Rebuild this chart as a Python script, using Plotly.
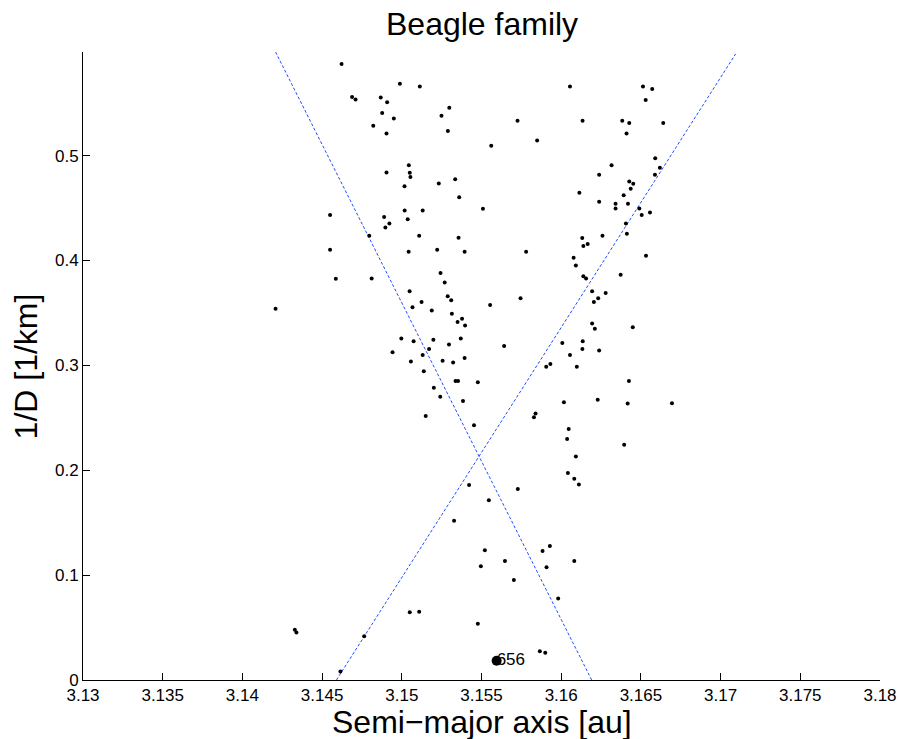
import plotly.graph_objects as go

# ---- data ----
a_au = [
    3.14622, 3.14988, 3.15113, 3.14688, 3.14710, 3.14868, 3.14908, 3.15298, 3.14877, 3.14950,
    3.15249, 3.14821, 3.15289, 3.14904, 3.15044, 3.15050, 3.15054, 3.14904, 3.15232, 3.15017,
    3.14550, 3.15018, 3.15131, 3.14889, 3.15037, 3.14922, 3.14897, 3.14796, 3.15109, 3.14550,
    3.15222, 3.15043, 3.14586, 3.14811, 3.15243, 3.15269, 3.15049, 3.15288, 3.15124, 3.15067,
    3.15188, 3.14208, 3.14997, 3.15074, 3.15198, 3.15296, 3.15171, 3.14942, 3.15131, 3.15057,
    3.15256, 3.16055, 3.16513, 3.16571, 3.16530, 3.15726, 3.16134, 3.16383, 3.16427, 3.16640,
    3.16410, 3.15561, 3.15849, 3.16590, 3.16316, 3.16619, 3.16238, 3.16588, 3.15335, 3.16427,
    3.16452, 3.16436, 3.16114, 3.16392, 3.15360, 3.16238, 3.16341, 3.16341, 3.16419, 3.16490,
    3.16557, 3.16505, 3.15509, 3.16406, 3.16412, 3.15356, 3.16132, 3.16259, 3.16139, 3.16166,
    3.15394, 3.15780, 3.16078, 3.16092, 3.16532, 3.16373, 3.16139, 3.16156, 3.16194, 3.16279,
    3.15310, 3.15554, 3.15745, 3.16232, 3.16205, 3.15314, 3.15350, 3.15378, 3.15397, 3.16194,
    3.16211, 3.16449, 3.15370, 3.15642, 3.16007, 3.16135, 3.16133, 3.16238, 3.16055, 3.15322,
    3.15394, 3.15906, 3.15932, 3.16098, 3.15337, 3.15353, 3.15477, 3.15384, 3.15453, 3.16425,
    3.16229, 3.16417, 3.16695, 3.16017, 3.15829, 3.15839, 3.16047, 3.16037, 3.16395, 3.16092,
    3.16042, 3.16082, 3.16111, 3.15422, 3.15728, 3.15546, 3.15328, 3.15521, 3.15929, 3.15883,
    3.15647, 3.16082, 3.15496, 3.15908, 3.15703, 3.15981, 3.15477, 3.15866, 3.15900, 3.15138,
    3.15201, 3.15241, 3.15150, 3.14329, 3.14339, 3.14764, 3.14615, 3.15050, 3.15109,
]
inv_d = [
    0.5874, 0.5686, 0.5660, 0.5559, 0.5534, 0.5555, 0.5508, 0.5457, 0.5407, 0.5355,
    0.5381, 0.5284, 0.5235, 0.5211, 0.4907, 0.4837, 0.4796, 0.4840, 0.4733, 0.4709,
    0.4434, 0.4477, 0.4477, 0.4415, 0.4394, 0.4353, 0.4315, 0.4235, 0.4235, 0.4103,
    0.4103, 0.4084, 0.3827, 0.3829, 0.3881, 0.3791, 0.3706, 0.3658, 0.3605, 0.3555,
    0.3523, 0.3541, 0.3257, 0.3229, 0.3245, 0.3199, 0.3156, 0.3126, 0.3099, 0.3038,
    0.3043, 0.5660, 0.5660, 0.5636, 0.5531, 0.5333, 0.5333, 0.5333, 0.5311, 0.5311,
    0.5212, 0.5095, 0.5143, 0.4974, 0.4907, 0.4885, 0.4818, 0.4818, 0.4774, 0.4754,
    0.4731, 0.4685, 0.4647, 0.4623, 0.4602, 0.4561, 0.4542, 0.4496, 0.4542, 0.4496,
    0.4458, 0.4434, 0.4494, 0.4353, 0.4256, 0.4216, 0.4215, 0.4235, 0.4138, 0.4158,
    0.4084, 0.4084, 0.4027, 0.3953, 0.4046, 0.3865, 0.3849, 0.3829, 0.3706, 0.3690,
    0.3622, 0.3576, 0.3639, 0.3639, 0.3604, 0.3493, 0.3414, 0.3445, 0.3381, 0.3399,
    0.3350, 0.3364, 0.3257, 0.3185, 0.3214, 0.3229, 0.3157, 0.3142, 0.3099, 0.3028,
    0.3070, 0.2988, 0.3013, 0.2988, 0.2851, 0.2851, 0.2838, 0.2660, 0.2428, 0.2851,
    0.2673, 0.2637, 0.2638, 0.2649, 0.2506, 0.2542, 0.2393, 0.2298, 0.2244, 0.2132,
    0.1974, 0.1920, 0.1865, 0.1859, 0.1821, 0.1713, 0.1519, 0.1236, 0.1278, 0.1230,
    0.1135, 0.1135, 0.1085, 0.1074, 0.0954, 0.0778, 0.0537, 0.0273, 0.0260, 0.2943,
    0.2787, 0.2701, 0.2517, 0.0480, 0.0454, 0.0416, 0.0082, 0.0645, 0.0651,
]

# parent body (656 Beagle)
parent_a = [3.15595]
parent_inv_d = [0.0184]
parent_label = ["656"]

# V-shape boundary lines
left_line_a = [3.14208, 3.16191]
left_line_inv_d = [0.5988, 0.0]
right_line_a = [3.14590, 3.17094]
right_line_inv_d = [0.0, 0.5969]

x_ticks = [3.13, 3.135, 3.14, 3.145, 3.15, 3.155, 3.16, 3.165, 3.17, 3.175, 3.18]
x_tick_text = ["3.13", "3.135", "3.14", "3.145", "3.15", "3.155", "3.16", "3.165", "3.17", "3.175", "3.18"]
y_ticks = [0, 0.1, 0.2, 0.3, 0.4, 0.5]
y_tick_text = ["0", "0.1", "0.2", "0.3", "0.4", "0.5"]

FONT = "Liberation Sans, Arial, Helvetica, sans-serif"

fig = go.Figure()

fig.add_trace(go.Scatter(
    x=left_line_a, y=left_line_inv_d, mode="lines",
    line=dict(color="#1f4fff", width=1, dash="3px,2px"),
    hoverinfo="skip", showlegend=False))
fig.add_trace(go.Scatter(
    x=right_line_a, y=right_line_inv_d, mode="lines",
    line=dict(color="#1f4fff", width=1, dash="3px,2px"),
    hoverinfo="skip", showlegend=False))

fig.add_trace(go.Scatter(
    x=a_au, y=inv_d, mode="markers",
    marker=dict(color="black", size=4, line=dict(width=0)),
    showlegend=False))

# label first, then the dot on top of it
fig.add_trace(go.Scatter(
    x=parent_a, y=parent_inv_d, mode="text", text=parent_label,
    textposition="middle right",
    textfont=dict(family=FONT, size=17, color="black"),
    showlegend=False, hoverinfo="skip"))
fig.add_trace(go.Scatter(
    x=parent_a, y=parent_inv_d, mode="markers",
    marker=dict(color="black", size=10, line=dict(width=0)),
    showlegend=False))

axis_common = dict(
    showgrid=False, zeroline=False, showline=True, linecolor="black", linewidth=1,
    ticks="inside", ticklen=7, tickcolor="black", tickwidth=1, mirror=False,
    automargin=False,
    tickfont=dict(family=FONT, size=17, color="black"),
)

fig.update_xaxes(range=[3.13, 3.18], tickvals=x_ticks, ticktext=x_tick_text, **axis_common)
fig.update_yaxes(range=[0, 0.5988], tickvals=y_ticks, ticktext=y_tick_text, **axis_common)

fig.update_layout(
    width=898, height=739, autosize=False,
    margin=dict(l=83, r=18, t=52, b=59),
    paper_bgcolor="white", plot_bgcolor="white",
    font=dict(family=FONT, color="black"),
    annotations=[
        dict(text="Beagle family", xref="paper", yref="paper", x=0.5, y=1.044,
             xanchor="center", yanchor="middle", showarrow=False,
             font=dict(family=FONT, size=32, color="black")),
        dict(text="Semi\u2212major axis [au]", xref="paper", yref="paper", x=0.5, y=-0.067,
             xanchor="center", yanchor="middle", showarrow=False,
             font=dict(family=FONT, size=32, color="black")),
        dict(text="1/D [1/km]", xref="paper", yref="paper", x=-0.071, y=0.5,
             xanchor="center", yanchor="middle", showarrow=False, textangle=-90,
             font=dict(family=FONT, size=32, color="black")),
    ],
)

fig.write_html("out.html")
